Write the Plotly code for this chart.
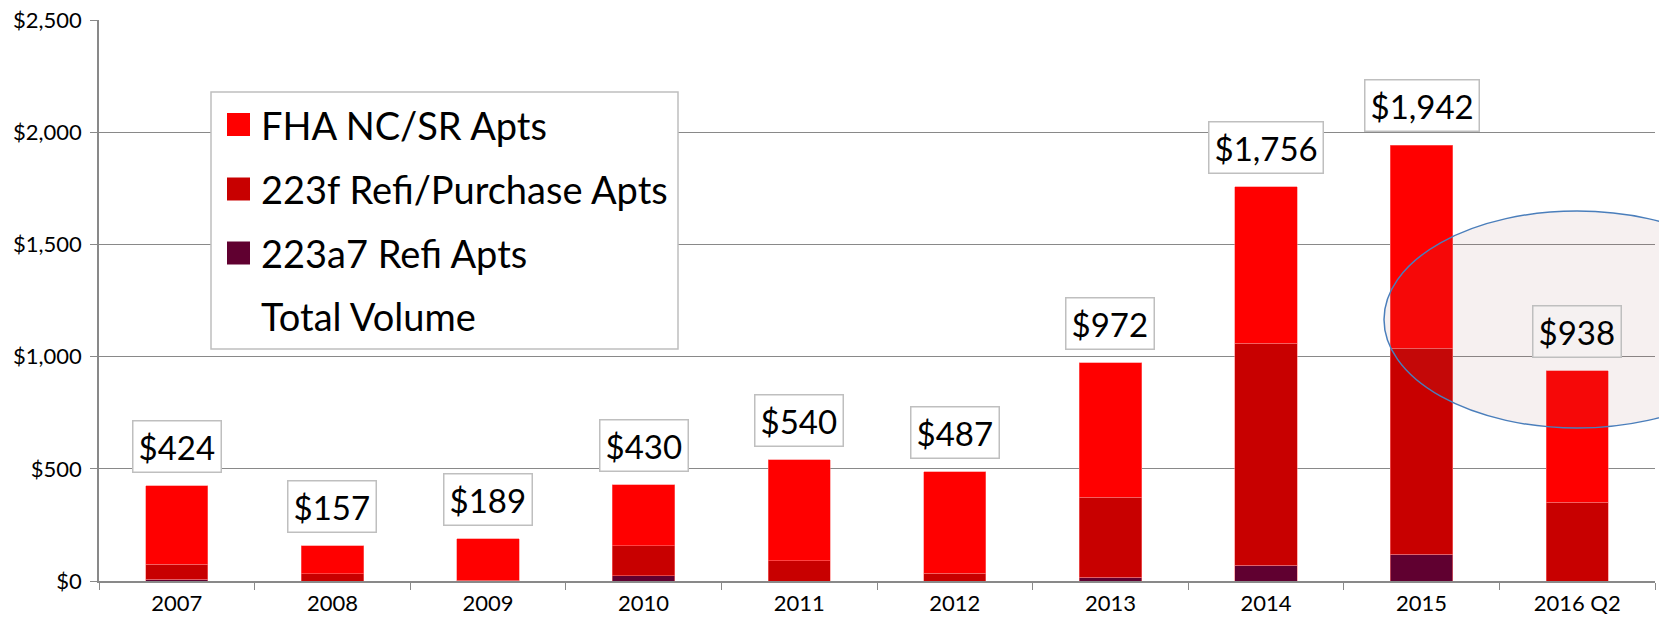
import plotly.graph_objects as go

# ---- data ($ millions) ----
categories = ["2007", "2008", "2009", "2010", "2011", "2012", "2013", "2014", "2015", "2016 Q2"]
fha_nc_sr = [350, 124, 186, 273, 450, 453, 599, 697, 905, 586]
refi_223f = [66, 33, 3, 133, 90, 34, 357, 989, 917, 352]
refi_223a7 = [8, 0, 0, 24, 0, 0, 16, 70, 120, 0]
total_volume = [424, 157, 189, 430, 540, 487, 972, 1756, 1942, 938]
y_ticks = [0, 500, 1000, 1500, 2000, 2500]
series_names = ["FHA NC/SR Apts", "223f Refi/Purchase Apts", "223a7 Refi Apts", "Total Volume"]

# ---- style ----
C_NC = "#FF0000"
C_F = "#C80000"
C_A7 = "#600030"
GRID = "#898989"
FONT = "Lato"

W, H = 1659, 622
ML, MR, MT, MB = 99, 4, 20, 41
PW, PH = W - ML - MR, H - MT - MB


def px_x(px):
    return (px - ML) / PW


def px_y(py):
    return (H - MB - py) / PH


fig = go.Figure()
seg_line = dict(color="rgba(255,120,120,0.7)", width=0.8)
for name, vals, col in [
    (series_names[2], refi_223a7, C_A7),
    (series_names[1], refi_223f, C_F),
    (series_names[0], fha_nc_sr, C_NC),
]:
    fig.add_trace(go.Bar(x=categories, y=vals, name=name,
                         marker=dict(color=col, line=seg_line),
                         showlegend=False))

# Total volume labels (x given as category index)
annotations = []
for i, (cat, tot) in enumerate(zip(categories, total_volume)):
    annotations.append(dict(
        x=i, y=tot, xref="x", yref="y", text=f"${tot:,}",
        showarrow=False, yanchor="bottom", yshift=13,
        font=dict(family=FONT, size=33, color="black"),
        bgcolor="#F5F1F1" if cat == "2016 Q2" else "white",
        bordercolor="#BFBFBF", borderwidth=1.5, borderpad=5,
    ))

# Manual legend (large swatches)
shapes = []
lx0, lx1, ly0, ly1 = 211, 678, 92, 349
shapes.append(dict(type="rect", xref="paper", yref="paper",
                   x0=px_x(lx0), x1=px_x(lx1), y0=px_y(ly1), y1=px_y(ly0),
                   fillcolor="white", line=dict(color="#BFBFBF", width=1.5),
                   layer="above"))
legend_colors = [C_NC, C_F, C_A7, None]
row_y = [124.5, 189, 253, 316]
for name, col, ry in zip(series_names, legend_colors, row_y):
    if col is not None:
        shapes.append(dict(type="rect", xref="paper", yref="paper",
                           x0=px_x(227), x1=px_x(250),
                           y0=px_y(ry + 11.5), y1=px_y(ry - 11.5),
                           fillcolor=col, line=dict(width=0), layer="above"))
    annotations.append(dict(
        x=px_x(259), y=px_y(ry), xref="paper", yref="paper", text=name,
        showarrow=False, xanchor="left", yanchor="middle",
        font=dict(family=FONT, size=38, color="black"),
    ))

# Highlight ellipse: faint tint over everything, outline on top
shapes.append(dict(type="circle", xref="paper", yref="paper",
                   x0=px_x(1384), x1=px_x(1770), y0=px_y(428), y1=px_y(211),
                   fillcolor="rgba(150,90,90,0.09)",
                   line=dict(color="#4A7EBB", width=1.5), layer="above"))

fig.update_layout(
    barmode="stack", bargap=0.6,
    width=W, height=H,
    margin=dict(l=ML, r=MR, t=MT, b=MB, autoexpand=False),
    plot_bgcolor="white", paper_bgcolor="white",
    font=dict(family=FONT, color="black"),
    annotations=annotations, shapes=shapes,
    showlegend=False,
)
fig.update_xaxes(
    type="category", range=[-0.5, len(categories) - 0.5], automargin=False,
    tickson="boundaries", ticks="outside", ticklen=7,
    tickcolor=GRID, showline=True, linecolor=GRID, linewidth=1.5,
    showgrid=False, tickfont=dict(family=FONT, size=22, color="black"),
    ticklabelstandoff=2, tickangle=0,
)
fig.update_yaxes(
    range=[0, 2500], tickvals=y_ticks, ticktext=[f"${v:,}" for v in y_ticks],
    automargin=False,
    ticks="outside", ticklen=7, tickcolor=GRID,
    showline=True, linecolor=GRID, linewidth=1.5,
    showgrid=True, gridcolor=GRID, gridwidth=1.2, zeroline=False,
    tickfont=dict(family=FONT, size=22, color="black"),
    ticklabelstandoff=4,
)

fig.write_html("out.html", config={"displayModeBar": False},
               post_script="document.body.style.margin='0';document.body.style.overflow='hidden';")
